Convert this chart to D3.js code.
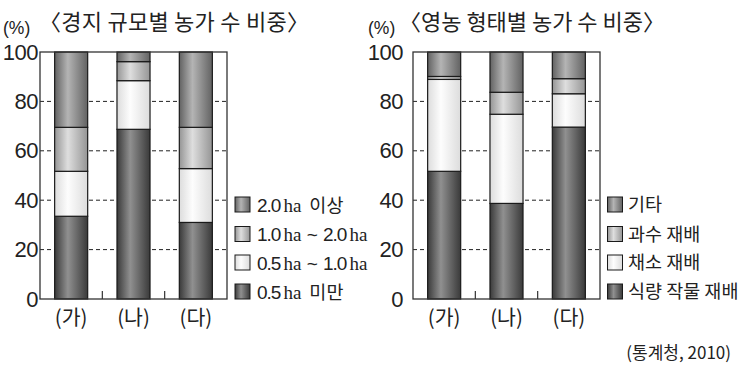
<!DOCTYPE html>
<html><head><meta charset="utf-8">
<script src="https://cdn.jsdelivr.net/npm/d3@7"></script>
<style>body{margin:0;background:#fff}svg{display:block}</style>
</head><body>
<svg id="c" width="751" height="367"></svg>
<script>
// ---- data ----
const categories = ["(가)", "(나)", "(다)"];
const yTicks = [0, 20, 40, 60, 80, 100];

// 경지 규모별 (bottom -> top)
const sizeUnder05 = [33.5, 68.7, 31.0];
const size05to10  = [18.2, 19.7, 21.8];
const size10to20  = [17.8, 7.7, 16.7];
const sizeOver20  = [30.5, 3.9, 30.5];
const sizeLabels  = ["0.5|ha 미만", "0.5|ha ~ 1.0|ha", "1.0|ha ~ 2.0|ha", "2.0|ha 이상"];

// 영농 형태별 (bottom -> top)
const typeFood  = [51.7, 38.7, 69.6];
const typeVeg   = [37.2, 36.1, 13.5];
const typeFruit = [1.2, 8.9, 6.1];
const typeOther = [9.9, 16.3, 10.8];
const typeLabels = ["식량 작물 재배", "채소 재배", "과수 재배", "기타"];

const titleLeft = "〈경지 규모별 농가 수 비중〉";
const titleRight = "〈영농 형태별 농가 수 비중〉";
const source = "(통계청, 2010)";

// ---- drawing ----
const svg = d3.select("#c");
const defs = svg.append("defs");
const shades = [
  {id: "g0", edge: "#3a3a3a", mid: "#909090"},
  {id: "g1", edge: "#dcdcdc", mid: "#fdfdfd"},
  {id: "g2", edge: "#959595", mid: "#dedede"},
  {id: "g3", edge: "#626262", mid: "#b4b4b4"}
];
shades.forEach(s => {
  const g = defs.append("linearGradient").attr("id", s.id).attr("x1", "0").attr("x2", "1").attr("y1", "0").attr("y2", "0");
  g.append("stop").attr("offset", "0").attr("stop-color", s.edge);
  g.append("stop").attr("offset", "0.4").attr("stop-color", s.mid);
  g.append("stop").attr("offset", "1").attr("stop-color", s.edge);
});

const KR = "'Noto Sans CJK KR', 'Noto Sans', sans-serif";
const NUM = "'Liberation Sans', Arial, sans-serif";

function panel(opt) {
  const {x0, x1, series, labels, title, titleX, titleW, pctX, labelEnd, legendX, legendTextX} = opt;
  const yTop = 52, yBot = 299;
  const y = d3.scaleLinear().domain([0, 100]).range([yBot, yTop]);
  const x = d3.scaleBand().domain(categories).range([x0, x1]).paddingInner(0.47).paddingOuter(0.235);
  const g = svg.append("g");

  // gridlines
  g.selectAll("line.grid").data(yTicks.filter(t => t > 0 && t < 100)).enter().append("line")
    .attr("x1", x0).attr("x2", x1).attr("y1", d => y(d)).attr("y2", d => y(d))
    .attr("stroke", "#222").attr("stroke-width", 1).attr("stroke-dasharray", "4,3");

  // stacks
  const rows = categories.map((c, i) => {
    const o = {cat: c};
    series.forEach((s, k) => o["s" + k] = s[i]);
    return o;
  });
  const stack = d3.stack().keys(series.map((s, k) => "s" + k))(rows);
  stack.forEach((layer, k) => {
    g.selectAll(null).data(layer).enter().append("rect")
      .attr("x", d => x(d.data.cat))
      .attr("width", x.bandwidth())
      .attr("y", d => y(d[1]))
      .attr("height", d => y(d[0]) - y(d[1]))
      .attr("fill", `url(#g${k})`)
      .attr("stroke", "#1a1a1a").attr("stroke-width", 1.2);
  });

  // frame
  g.append("rect").attr("x", x0).attr("y", yTop).attr("width", x1 - x0).attr("height", yBot - yTop)
    .attr("fill", "none").attr("stroke", "#333").attr("stroke-width", 1.3);

  // inner ticks between bands
  const step = x.step();
  [1, 2].forEach(k => {
    g.append("line").attr("x1", x0 + step * k).attr("x2", x0 + step * k)
      .attr("y1", yBot).attr("y2", yBot - 8).attr("stroke", "#333").attr("stroke-width", 1.2);
  });

  // y axis labels
  const ax = d3.axisLeft(y).tickValues(yTicks).tickSize(0).tickPadding(x0 - labelEnd).tickFormat(d3.format("d"));
  const ag = g.append("g").attr("transform", `translate(${x0},0)`).call(ax);
  ag.select(".domain").remove();
  ag.selectAll("text").attr("font-family", NUM).attr("font-size", 22).attr("fill", "#222").attr("letter-spacing", -0.5);

  // x labels
  g.selectAll(null).data(categories).enter().append("text")
    .attr("x", d => x(d) + x.bandwidth() / 2).attr("y", 325)
    .attr("text-anchor", "middle").attr("font-family", KR).attr("font-size", 20.5).attr("fill", "#222")
    .text(d => d);

  // title
  g.append("text").attr("x", pctX).attr("y", 34).attr("font-family", NUM).attr("font-size", 17.5).attr("fill", "#222").text("(%)");
  g.append("text").attr("x", titleX).attr("y", 30).attr("font-family", KR).attr("font-size", 22)
    .attr("textLength", titleW).attr("lengthAdjust", "spacing").attr("fill", "#222").text(title);

  // legend (top item = last series)
  const legendRows = [204.5, 234, 262.5, 291.5];
  const order = [3, 2, 1, 0];
  order.forEach((k, r) => {
    const cy = legendRows[r];
    g.append("rect").attr("x", legendX).attr("y", cy - 7.5).attr("width", 15).attr("height", 15)
      .attr("fill", `url(#g${k})`).attr("stroke", "#1a1a1a").attr("stroke-width", 1);
    const t = g.append("text").attr("x", legendTextX).attr("y", cy + 7).attr("font-size", 19).attr("fill", "#222");
    const parts = labels[k].split("|");
    if (parts.length === 1) {
      t.attr("font-family", KR).attr("font-size", 18.5).attr("y", cy + 6.5).text(parts[0]);
    } else {
      parts.forEach((p, pi) => {
        if (pi === 0) {
          t.append("tspan").attr("font-family", NUM).attr("letter-spacing", -1).text(p);
        } else {
          t.append("tspan").attr("font-family", "'Liberation Serif', serif").attr("dx", 3).text("ha");
          const rest = p.slice(2);
          if (rest.trim().startsWith("~")) {
            t.append("tspan").attr("font-family", NUM).text(" ~ ");
            t.append("tspan").attr("font-family", NUM).attr("letter-spacing", -1).text(rest.replace(/\s*~\s*/, ""));
          } else if (rest.trim().length) {
            t.append("tspan").attr("font-family", KR).attr("font-size", 18.5).attr("dx", 8).text(rest.trim());
          }
        }
      });
    }
  });
}

panel({x0: 40, x1: 227, series: [sizeUnder05, size05to10, size10to20, sizeOver20], labels: sizeLabels,
  title: titleLeft, titleX: 39, titleW: 270, pctX: 3, labelEnd: 38, legendX: 235, legendTextX: 257});
panel({x0: 413, x1: 600, series: [typeFood, typeVeg, typeFruit, typeOther], labels: typeLabels,
  title: titleRight, titleX: 399, titleW: 266, pctX: 368, labelEnd: 403, legendX: 607.5, legendTextX: 628});

svg.append("text").attr("x", 731).attr("y", 359).attr("text-anchor", "end")
  .attr("font-family", KR).attr("font-size", 17).attr("fill", "#222").text(source);
</script>
</body></html>
